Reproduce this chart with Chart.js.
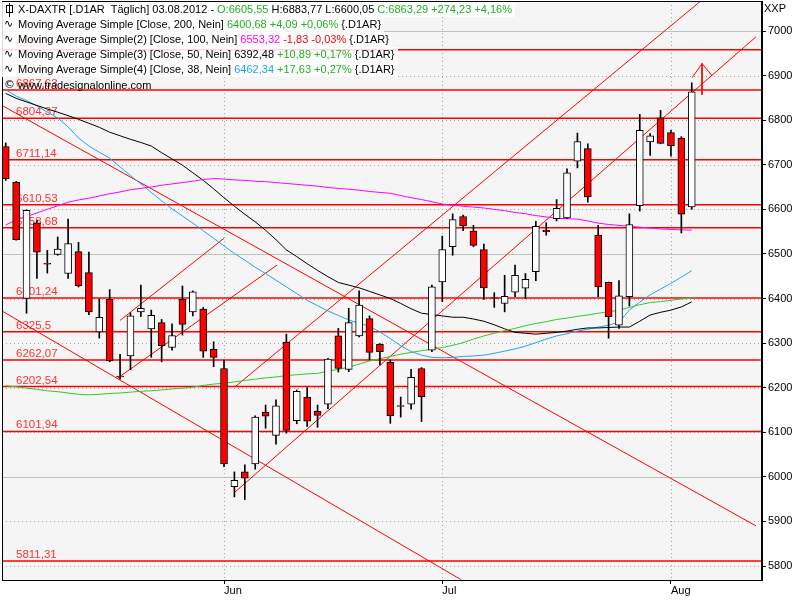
<!DOCTYPE html>
<html>
<head>
<meta charset="utf-8">
<script src="https://cdn.jsdelivr.net/npm/chart.js@4.4.0/dist/chart.umd.min.js"></script>
<style>
  body { margin: 0; background: #fff; }
  #wrap { position: relative; width: 800px; height: 600px; }
  #hdr { position: absolute; left: 0; top: 0; font: 11px "Liberation Sans", Arial, sans-serif; color: #000; }
  .row { position: absolute; left: 1px; white-space: nowrap; background: rgba(255,255,255,0.85); padding: 1px 3px 1px 17px; line-height: 13px; }
  .row.wm { background: transparent; }
  .ic { position: absolute; left: 3px; top: 0; font-family: "DejaVu Sans"; font-size: 11px; }
  .cdl { position: absolute; left: 5px; top: 3px; width: 5px; height: 6px; border: 1px solid #000; background: #fff; }
  .cdl:before { content: ""; position: absolute; left: 2px; top: -3px; width: 1px; height: 14px; background: #000; }
  .g { color: #22b022; } .r { color: #ff0000; } .m { color: #ff00ff; } .c { color: #1ea7f0; }
  #xxp { position: absolute; left: 764px; top: 2px; font: 11px "Liberation Sans", Arial, sans-serif; }
</style>
</head>
<body>
<div id="wrap">
  <canvas id="chart" width="800" height="600"></canvas>
  <div id="hdr">
    <div class="row" style="top:2px"><span class="cdl"></span>X-DAXTR [.D1AR&nbsp; Täglich] 03.08.2012 - <span class="g">O:6605,55</span> H:6883,77 L:6600,05 <span class="g">C:6863,29 +274,23 +4,16%</span></div>
    <div class="row" style="top:17px"><span class="ic">∿</span>Moving Average Simple [Close, 200, Nein] <span class="g">6400,68 +4,09 +0,06%</span> {.D1AR}</div>
    <div class="row" style="top:32px"><span class="ic">∿</span>Moving Average Simple(2) [Close, 100, Nein] <span class="m">6553,32</span> <span class="r">-1,83 -0,03%</span> {.D1AR}</div>
    <div class="row" style="top:47px"><span class="ic">∿</span>Moving Average Simple(3) [Close, 50, Nein] 6392,48 <span class="g">+10,89 +0,17%</span> {.D1AR}</div>
    <div class="row" style="top:62px"><span class="ic">∿</span>Moving Average Simple(4) [Close, 38, Nein] <span class="c">6462,34</span> <span class="g">+17,63 +0,27%</span> {.D1AR}</div>
    <div class="row wm" style="top:78px"><span class="ic">©</span>www.tradesignalonline.com</div>
  </div>
  <div id="xxp">XXP</div>
</div>
<script>
// daily candles, 03.05.2012 .. 03.08.2012 (index = trading day)
var open  = [6741,6661,6400,6570,6479,6499,6456,6505,6458,6325,6398,6226,6271,6370,6332,6346,6290,6398,6370,6376,6286,
             6243,5978,6011,6029,6145,6093,6302,6126,6179,6147,6163,6316,6241,6316,6355,6297,6257,6160,6163,6243,
             6284,6437,6516,6584,6551,6510,6402,6389,6414,6423,6460,6553,6579,6581,6708,6736,6542,6436,6340,6404,6608,6751,6805,
             6772,6760,6605.55];
var high  = [6749,6663,6599,6575,6508,6538,6578,6526,6504,6399,6420,6275,6368,6430,6374,6353,6343,6428,6417,6380,6303,
             6262,6011,6027,6137,6161,6173,6320,6195,6200,6161,6266,6333,6378,6417,6361,6299,6262,6179,6241,6245,
             6430,6540,6590,6587,6564,6522,6413,6452,6475,6456,6573,6570,6622,6691,6771,6747,6564,6437,6440,6590,6813,6770,6822,
             6777,6763,6883.77];
var low   = [6665,6531,6367,6445,6457,6497,6445,6426,6364,6311,6258,6219,6240,6359,6268,6258,6284,6318,6361,6268,6247,
             6023,5955,5949,6017,6109,6073,6098,6119,6113,6111,6153,6235,6236,6314,6262,6251,6120,6134,6152,6124,
             6281,6393,6497,6552,6516,6398,6380,6370,6404,6400,6440,6542,6574,6579,6693,6616,6404,6311,6333,6383,6596,6721,6747,
             6719,6547,6600.05];
var close = [6669,6532,6598,6504,6477,6511,6523,6428,6370,6358,6260,6224,6361,6378,6362,6294,6317,6342,6415,6282,6268,
             6029,5992,5997,6134,6136,6159,6104,6192,6125,6138,6264,6243,6346,6385,6279,6281,6137,6158,6223,6180,
             6426,6510,6577,6563,6519,6424,6401,6405,6452,6443,6562,6550,6602,6682,6752,6628,6426,6359,6406,6566,6777,6765,6748,
             6742,6589,6863.29];

// moving averages
var ma200 = [6204,6202,6199,6196,6193,6191,6188,6185,6184,6185,6187,6188,6190,6192,6193,6195,6197,6199,6201,6205,6208,
             6210,6213,6216,6219,6222,6224,6227,6229,6231,6232,6237,6241,6246,6253,6260,6265,6270,6275,6279,6283,
             6286,6290,6295,6301,6309,6316,6322,6328,6333,6339,6344,6348,6353,6356,6360,6363,6367,6370,6374,6380,6386,6391,6393,
             6396,6399,6400.68];
var ma100 = [6565,6576,6584,6592,6600,6608,6616,6621,6625,6630,6635,6639,6644,6647,6650,6654,6657,6660,6663,6667,6669,
             6668,6666,6665,6663,6662,6660,6658,6656,6654,6652,6649,6647,6645,6643,6640,6638,6636,6631,6626,6622,
             6617,6612,6609,6607,6605,6603,6600,6597,6593,6590,6586,6583,6580,6579,6578,6574,6569,6566,6564,6562,6560,6558,6556,
             6555,6554,6553.32];
var ma50  = [6860,6849,6841,6833,6825,6818,6810,6802,6793,6784,6773,6765,6757,6750,6742,6727,6713,6699,6682,6665,6646,
             6626,6607,6589,6572,6553,6532,6509,6494,6478,6463,6449,6436,6430,6424,6416,6408,6400,6389,6377,6367,
             6364,6361,6358,6358,6354,6349,6341,6332,6324,6322,6320,6322,6324,6327,6331,6334,6334,6335,6336,6336,6349,6363,6369,
             6374,6381,6392.48];
var ma38  = [6868,6854,6844,6832,6818,6805,6785,6760,6742,6728,6715,6695,6676,6657,6638,6619,6601,6585,6569,6552,6535,
             6518,6501,6486,6470,6456,6441,6426,6411,6396,6384,6372,6362,6352,6344,6338,6325,6310,6294,6281,6273,
             6268,6267,6268,6270,6271,6273,6277,6282,6287,6293,6301,6309,6316,6321,6327,6331,6336,6340,6347,6374,6392,6408,6421,
             6434,6448,6462.34];

// horizontal support / resistance levels
var levels      = [6958.2, 6867.63, 6804.37, 6711.14, 6610.53, 6558.68, 6401.24, 6325.5, 6262.07, 6202.54, 6101.94, 5811.31];
var levelLabels = ["6958,2", "6867,63", "6804,37", "6711,14", "6610,53", "6558,68", "6401,24", "6325,5", "6262,07", "6202,54", "6101,94", "5811,31"];

// trend lines as [index, price] end points
var trends = [
  [[-0.36, 6833], [72.18, 5890]],
  [[-0.36, 6372], [43.8, 5769.5]],
  [[10.8, 6222], [26.1, 6475]],
  [[11.0, 6351], [21.0, 6535]],
  [[21.96, 5964], [72.18, 6987]],
  [[22.06, 6202], [66.8, 7066]],
  [[66.03, 6895], [66.99, 6927], [67.95, 6900]],
  [[66.99, 6927], [66.99, 6857]]
];

var monthTicks = [21, 42, 64];
var monthNames = ["Jun", "Jul", "Aug"];
var yTicks = [5800,5900,6000,6100,6200,6300,6400,6500,6600,6700,6800,6900,7000];

var xMin = -0.36, xMax = 72.76, yMin = 5768.6, yMax = 7067.3;

var idx = close.map(function(c, i){ return i; });
var bodyColors = close.map(function(c, i){ return c >= open[i] ? '#ffffff' : '#ff0000'; });

var datasets = [];
datasets.push({
  type: 'bar', label: 'body', order: 0, grouped: false,
  data: idx.map(function(i){ return {x: i, y: [open[i], close[i]]}; }),
  backgroundColor: bodyColors, borderColor: '#000', borderWidth: 1, borderSkipped: false, barThickness: 7
});
datasets.push({
  type: 'bar', label: 'wick', order: 1, grouped: false,
  data: idx.map(function(i){ return {x: i, y: [low[i], high[i]]}; }),
  backgroundColor: '#000', borderWidth: 0, barThickness: 1
});
function maSet(arr, color) {
  return { type: 'line', order: 2, data: arr.map(function(v, i){ return {x: i, y: v}; }),
           borderColor: color, borderWidth: 1, pointRadius: 0, tension: 0, fill: false };
}
datasets.push(maSet(ma200, '#33c833'));
datasets.push(maSet(ma100, '#ff00ff'));
datasets.push(maSet(ma50, '#000000'));
datasets.push(maSet(ma38, '#1ea7f0'));
trends.forEach(function(t){
  datasets.push({ type: 'line', order: 3, data: t.map(function(p){ return {x: p[0], y: p[1]}; }),
                  borderColor: '#ff0000', borderWidth: 1, pointRadius: 0, tension: 0, fill: false });
});
levels.forEach(function(l){
  datasets.push({ type: 'line', order: 4, data: [{x: xMin, y: l}, {x: xMax, y: l}],
                  borderColor: '#ff0000', borderWidth: 1.5, pointRadius: 0, fill: false });
});

var decor = {
  id: 'decor',
  beforeDraw: function(chart) {
    var a = chart.chartArea, ctx = chart.ctx;
    ctx.save();
    ctx.fillStyle = '#f5f5f5';
    ctx.fillRect(a.left, a.top, a.right - a.left, a.bottom - a.top);
    ctx.restore();
  },
  beforeDatasetsDraw: function(chart) {
    var a = chart.chartArea, ctx = chart.ctx, xs = chart.scales.x, ys = chart.scales.y;
    ctx.save();
    ctx.lineWidth = 1;
    yTicks.forEach(function(v){
      var y = Math.round(ys.getPixelForValue(v)) + 0.5;
      if (v % 500 === 0) { ctx.setLineDash([]); ctx.strokeStyle = '#b4c8b4'; }
      else { ctx.setLineDash([1, 3]); ctx.strokeStyle = '#a0a8a0'; }
      ctx.beginPath(); ctx.moveTo(a.left, y); ctx.lineTo(a.right, y); ctx.stroke();
    });
    ctx.setLineDash([1, 3]); ctx.strokeStyle = '#a0a8a0';
    monthTicks.forEach(function(v){
      var x = Math.round(xs.getPixelForValue(v)) + 0.5;
      ctx.beginPath(); ctx.moveTo(x, a.top); ctx.lineTo(x, a.bottom); ctx.stroke();
    });
    ctx.setLineDash([]);
    ctx.font = '11.5px "Liberation Sans", Arial, sans-serif';
    ctx.fillStyle = '#ff3030';
    ctx.textBaseline = 'alphabetic';
    levels.forEach(function(l, i){
      var y = ys.getPixelForValue(l);
      ctx.fillText(levelLabels[i], a.left + 14, y - 3);
    });
    ctx.restore();
  },
  afterDraw: function(chart) {
    var a = chart.chartArea, ctx = chart.ctx;
    ctx.save();
    ctx.strokeStyle = '#000'; ctx.lineWidth = 1;
    ctx.strokeRect(a.left + 0.5, a.top + 0.5, a.right - a.left - 1, a.bottom - a.top);
    ctx.restore();
  }
};

function noPad(s) { s.paddingTop = 0; s.paddingBottom = 0; s.paddingLeft = 0; s.paddingRight = 0; }

new Chart(document.getElementById('chart').getContext('2d'), {
  type: 'bar',
  data: { datasets: datasets },
  plugins: [decor],
  options: {
    responsive: false, animation: false, events: [],
    layout: { padding: { left: 2, top: 1, right: 0, bottom: 0 } },
    plugins: { legend: { display: false }, tooltip: { enabled: false } },
    scales: {
      x: {
        type: 'linear', position: 'bottom', min: xMin, max: xMax, offset: false,
        grid: { offset: false, drawOnChartArea: false, drawTicks: true, tickLength: 4, tickColor: '#000' },
        border: { color: '#000' },
        afterBuildTicks: function(s){ s.ticks = monthTicks.map(function(v){ return {value: v}; }); },
        afterFit: function(s){ s.height = 20; noPad(s); },
        ticks: {
          align: 'start', autoSkip: false, maxRotation: 0, padding: 0, color: '#000',
          font: { family: '"Liberation Sans", Arial, sans-serif', size: 11 },
          callback: function(v){ return monthNames[monthTicks.indexOf(v)]; }
        }
      },
      y: {
        type: 'linear', position: 'right', min: yMin, max: yMax,
        grid: { drawOnChartArea: false, drawTicks: true, tickLength: 4, tickColor: '#000' },
        border: { color: '#000' },
        afterBuildTicks: function(s){ s.ticks = yTicks.map(function(v){ return {value: v}; }); },
        afterFit: function(s){ s.width = 38; noPad(s); },
        ticks: {
          padding: 2, color: '#000',
          font: { family: '"Liberation Sans", Arial, sans-serif', size: 11 },
          callback: function(v){ return String(v); }
        }
      }
    }
  }
});
</script>
</body>
</html>
